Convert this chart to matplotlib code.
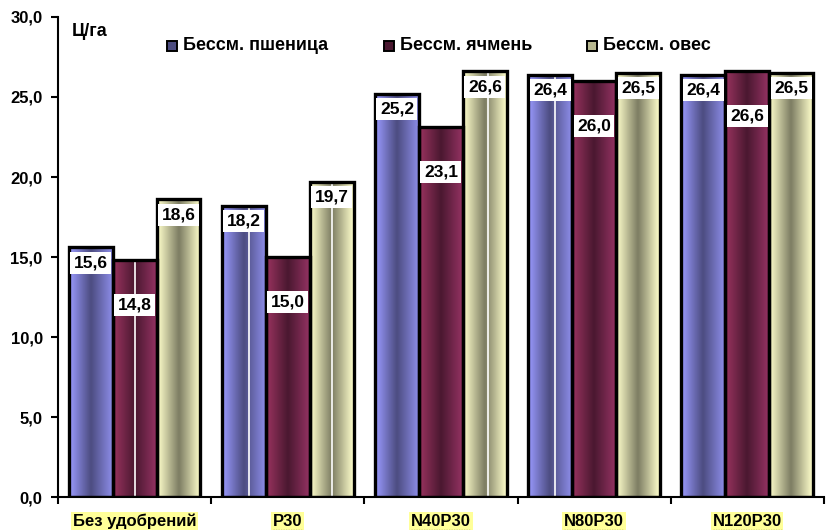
import matplotlib
matplotlib.use('Agg')
import matplotlib.pyplot as plt
from matplotlib.colors import LinearSegmentedColormap
from matplotlib.lines import Line2D
from matplotlib.patches import Rectangle
import numpy as np

categories = ['Без удобрений', 'P30', 'N40P30', 'N80P30', 'N120P30']
series_names = ['Бессм. пшеница', 'Бессм. ячмень', 'Бессм. овес']
wheat = [15.6, 18.2, 25.2, 26.4, 26.4]
barley = [14.8, 15.0, 23.1, 26.0, 26.6]
oats = [18.6, 19.7, 26.6, 26.5, 26.5]
y_ticks = [0, 5, 10, 15, 20, 25, 30]

plt.rcParams['font.family'] = ['Liberation Sans', 'DejaVu Sans']
plt.rcParams['font.weight'] = 'bold'

# cylinder-like shading: light edges, dark band near the middle
shades = [
    ['#9a9aff', '#4c4c80', '#8d8de8'],
    ['#99335f', '#4a1830', '#933262'],
    ['#ffffcc', '#7c7c62', '#ffffcc'],
]
cmaps = [LinearSegmentedColormap.from_list(f's{i}', [(0, c[0]), (0.5, c[1]), (1, c[2])])
         for i, c in enumerate(shades)]
grad = np.linspace(0, 1, 64).reshape(1, -1)

# which bars show a thin white seam, and where across the bar
seams = {(1, 0): 0.5, (0, 1): 0.62, (2, 1): 0.5, (2, 2): 0.57, (0, 3): 0.62}

fig = plt.figure(figsize=(8.28, 5.30), dpi=100)
ax = fig.add_axes([0.070, 0.062, 0.925, 0.906])

x = np.arange(len(categories))
w = 0.287
data = [wheat, barley, oats]
label_drop = [0.95, 2.8, 0.95]

for s, vals in enumerate(data):
    pos = x + (s - 1) * w
    bars = ax.bar(pos, vals, w, facecolor='none', edgecolor='black', linewidth=2.4, zorder=3)
    for i, b in enumerate(bars):
        x0, y0, bw, bh = b.get_x(), b.get_y(), b.get_width(), b.get_height()
        ax.imshow(grad, cmap=cmaps[s], extent=(x0, x0 + bw, y0, y0 + bh),
                  aspect='auto', interpolation='bicubic', zorder=2)
        if (s, i) in seams:
            sx = x0 + bw * seams[(s, i)]
            ax.plot([sx, sx], [0, bh], color='white', lw=1.2, zorder=2.5)
        ax.text(pos[i], vals[i] - label_drop[s], f'{vals[i]:.1f}'.replace('.', ','),
                ha='center', va='center', fontsize=12.5, fontweight='bold', zorder=5,
                bbox=dict(boxstyle='square,pad=0.2', facecolor='white', edgecolor='none'))

ax.set_xlim(-0.5, len(categories) - 0.5)
ax.set_ylim(0, 30)
ax.set_yticks(y_ticks)
ax.set_yticklabels([f'{t:.1f}'.replace('.', ',') for t in y_ticks], fontsize=12, fontweight='bold')
ax.set_xticks(x)
ax.set_xticklabels(categories, fontsize=12, fontweight='bold')
ax.set_xticks(np.arange(len(categories) + 1) - 0.5, minor=True)
ax.tick_params(axis='x', which='major', length=0, pad=12)
ax.tick_params(axis='x', which='minor', length=5, width=1.5, direction='out')
ax.tick_params(axis='y', length=5, width=1.5, direction='out', pad=6)
for side in ['top', 'right']:
    ax.spines[side].set_visible(False)
for side in ['left', 'bottom']:
    ax.spines[side].set_linewidth(1.5)

for lbl in ax.get_xticklabels():
    lbl.set_bbox(dict(boxstyle='square,pad=0.1', facecolor='#ffff99', edgecolor='none'))

ax.text(0.018, 0.969, 'Ц/га', transform=ax.transAxes, fontsize=13, fontweight='bold', va='center')

# legend row along the top
leg_x = [0.142, 0.426, 0.691]
for s, name in enumerate(series_names):
    lx = leg_x[s]
    ax.add_patch(Rectangle((lx, 0.929), 0.013, 0.021, transform=ax.transAxes,
                           facecolor=shades[s][1] if s < 2 else '#b8b890',
                           edgecolor='black', lw=1.4, clip_on=False, zorder=6))
    ax.text(lx + 0.021, 0.940, name, transform=ax.transAxes, fontsize=13,
            fontweight='bold', va='center', ha='left')

# dotted underline beneath each category label
fig.canvas.draw()
renderer = fig.canvas.get_renderer()
for lbl in ax.get_xticklabels():
    bb = lbl.get_window_extent(renderer)
    fig.add_artist(Line2D([bb.x0 / fig.bbox.width, bb.x1 / fig.bbox.width],
                          [(bb.y0 - 1.5) / fig.bbox.height] * 2,
                          color='#333333', lw=0.9, ls=(0, (1, 1))))

fig.savefig('out.png', dpi=100)
